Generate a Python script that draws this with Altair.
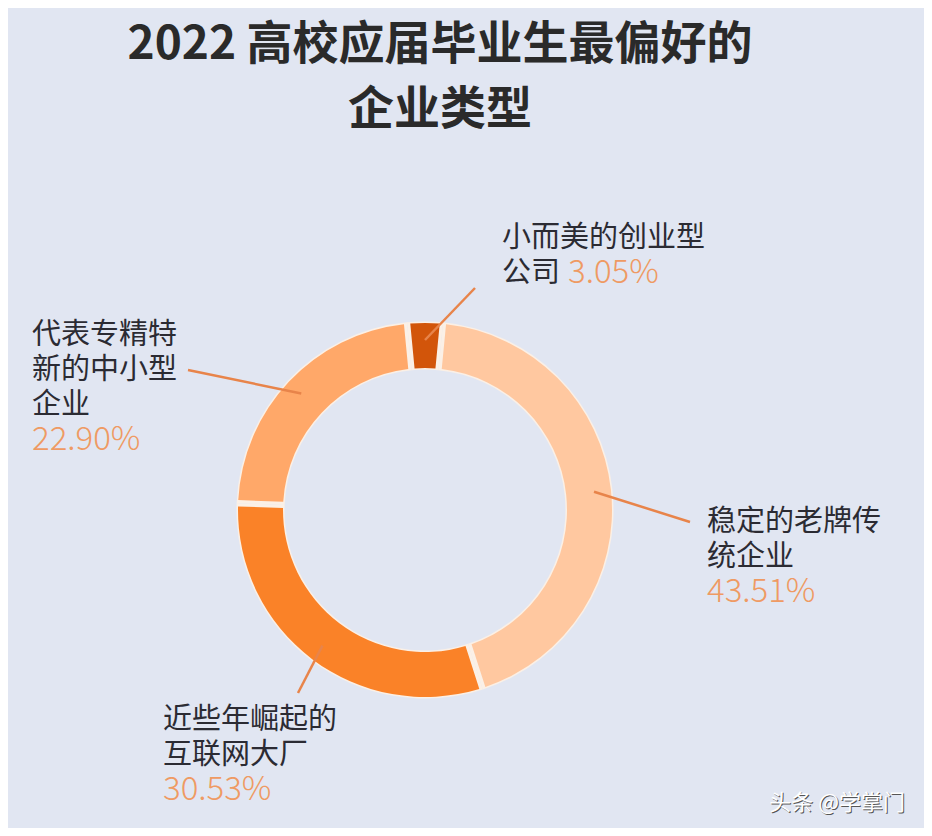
import math
import altair as alt
import pandas as pd

# ---------------- data ----------------
categories = ["小而美的创业型公司", "稳定的老牌传统企业", "近些年崛起的互联网大厂", "代表专精特新的中小型企业"]
shares = [3.05, 43.51, 30.53, 22.90]
share_text = ["3.05%", "43.51%", "30.53%", "22.90%"]
label_lines = [
    ["小而美的创业型", "公司"],
    ["稳定的老牌传", "统企业"],
    ["近些年崛起的", "互联网大厂"],
    ["代表专精特", "新的中小型", "企业"],
]
title_lines = ["2022 高校应届毕业生最偏好的", "企业类型"]
watermark = "头条 @学掌门"

# ---------------- style / layout ----------------
colors = ["#D2550A", "#FFC8A0", "#FA8228", "#FFA869"]
BG = "#E1E6F2"
TEXT = "#2B2B33"
PCT = "#EF9A63"
LEADER = "#E8844A"
FONT = "Noto Sans CJK SC"

OFF = 8                    # page margin
W, H = 916, 820            # chart size
CX, CY = 425 - OFF, 510 - OFF
R_OUT, R_IN = 187, 142

# label blocks (page px): left x, first-line center y
label_anchor = [(502, 238), (707, 522), (163, 720), (32, 335)]
LINE_STEP = 35
inline_pct = [True, False, False, False]
inline_pct_x = 568
leader_end = [(475, 288), (690, 522), (298, 693), (188, 370)]
LEADER_R = 170

# ---------------- derived tables ----------------
total = sum(shares)
start = -math.pi * shares[0] / total

arc_df = pd.DataFrame({"cat": categories, "share": shares, "idx": list(range(len(shares)))})

# leader lines: start at slice mid-angle
lead_rows = []
cum = 0.0
for i, s in enumerate(shares):
    mid = start + 2 * math.pi * (cum + s / 2) / total
    cum += s
    x0 = CX + LEADER_R * math.sin(mid)
    y0 = CY - LEADER_R * math.cos(mid)
    ex, ey = leader_end[i]
    lead_rows.append({"x": x0, "y": y0, "x2": ex - OFF, "y2": ey - OFF})
lead_df = pd.DataFrame(lead_rows)

txt_rows, pct_rows = [], []
for i, lines in enumerate(label_lines):
    ax, ay = label_anchor[i]
    for j, ln in enumerate(lines):
        txt_rows.append({"x": ax - OFF, "y": ay + j * LINE_STEP - OFF, "t": ln})
    if inline_pct[i]:
        px, py = inline_pct_x, ay + (len(lines) - 1) * LINE_STEP
    else:
        px, py = ax, ay + len(lines) * LINE_STEP
    pct_rows.append({"x": px - OFF, "y": py - OFF, "t": share_text[i]})
txt_df = pd.DataFrame(txt_rows)
pct_df = pd.DataFrame(pct_rows)

title_df = pd.DataFrame({"x": [440 - OFF] * 2, "y": [45 - OFF, 110 - OFF], "t": title_lines})
wm_df = pd.DataFrame({"x": [905 - OFF], "y": [803 - OFF], "t": [watermark]})

xs = alt.Scale(domain=[0, W], nice=False, zero=False)
ys = alt.Scale(domain=[0, H], reverse=True, nice=False, zero=False)

def X(f):
    return alt.X(f, type="quantitative", scale=xs, axis=None)

def Y(f):
    return alt.Y(f, type="quantitative", scale=ys, axis=None)

theta = alt.Theta("share:Q", stack=True, scale=alt.Scale(range=[start, start + 2 * math.pi]))
order = alt.Order("idx:Q", sort="ascending")
cx = alt.XDatum(CX, type="quantitative", scale=xs, axis=None)
cy = alt.YDatum(CY, type="quantitative", scale=ys, axis=None)

ring_base = alt.Chart(arc_df).mark_arc(innerRadius=R_IN - 1.5, outerRadius=R_OUT + 1.5).encode(
    x=cx, y=cy, theta=theta, order=order, color=alt.value("#FBF0E6")
)
ring = alt.Chart(arc_df).mark_arc(innerRadius=R_IN, outerRadius=R_OUT, padAngle=0.027).encode(
    x=cx, y=cy, theta=theta, order=order,
    color=alt.Color("cat:N", scale=alt.Scale(domain=categories, range=colors), legend=None),
)

leaders = alt.Chart(lead_df).mark_rule(color=LEADER, strokeWidth=2.5).encode(
    x=X("x"), y=Y("y"), x2="x2", y2="y2"
)

labels = alt.Chart(txt_df).mark_text(
    font=FONT, fontSize=29, color=TEXT, align="left", baseline="middle"
).encode(x=X("x"), y=Y("y"), text="t:N")

pcts = alt.Chart(pct_df).mark_text(
    font=FONT, fontSize=33, color=PCT, align="left", baseline="middle", fontWeight=300
).encode(x=X("x"), y=Y("y"), text="t:N")

title = alt.Chart(title_df).mark_text(
    font=FONT, fontSize=46, fontWeight="bold", color="#2A2A2A", align="center", baseline="middle"
).encode(x=X("x"), y=Y("y"), text="t:N")

wm_shadow = alt.Chart(wm_df).mark_text(
    font=FONT, fontSize=22, color="#555555", align="right", baseline="middle", dx=1, dy=1
).encode(x=X("x"), y=Y("y"), text="t:N")
wm = alt.Chart(wm_df).mark_text(
    font=FONT, fontSize=22, color="#FFFFFF", align="right", baseline="middle"
).encode(x=X("x"), y=Y("y"), text="t:N")

chart = alt.layer(ring_base, ring, leaders, labels, pcts, title, wm_shadow, wm).properties(
    width=W, height=H, background=BG, padding=0,
    autosize=alt.AutoSizeParams(type="fit", contains="padding"),
).configure_view(stroke=None)

chart.save("out.html", embed_options={"renderer": "svg", "actions": False})
